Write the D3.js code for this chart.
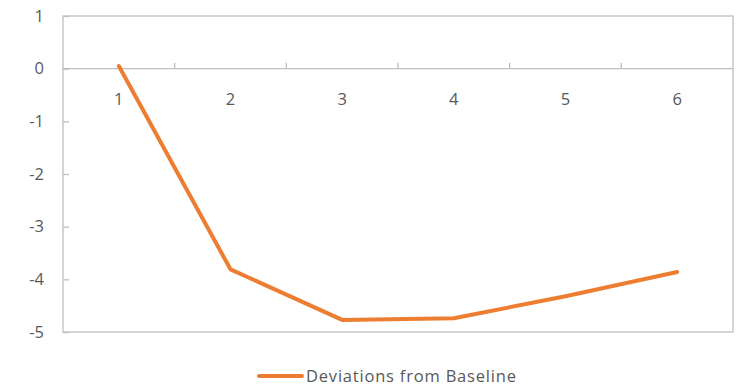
<!DOCTYPE html>
<html><head><meta charset="utf-8">
<script src="https://cdn.jsdelivr.net/npm/d3@7"></script>
<style>body{margin:0;background:#fff}svg{display:block}text{font-family:"Open Sans","Noto Sans",sans-serif;fill:#595959}</style>
</head><body>
<svg id="c" width="738" height="386"></svg>
<script>
const categories = ["1","2","3","4","5","6"];
const values = [0.05, -3.81, -4.77, -4.74, -4.32, -3.86];
const yTicks = [1, 0, -1, -2, -3, -4, -5];
const seriesName = "Deviations from Baseline";

const svg = d3.select("#c");
const L = 63, R = 733, T = 16, B = 332;
const x = d3.scaleBand().domain(categories).range([L, R]);
const y = d3.scaleLinear().domain([-5, 1]).range([B, T]);
const grey = "#BFBFBF";
const fs = "16.5px";

// plot border
svg.append("rect").attr("x", L).attr("y", T).attr("width", R - L).attr("height", B - T)
  .attr("fill", "none").attr("stroke", grey).attr("stroke-width", 1.3);

// y axis
const yAxis = d3.axisRight(y).tickValues(yTicks).tickSize(6).tickFormat("");
const gy = svg.append("g").attr("transform", `translate(${L},0)`).call(yAxis);
gy.select(".domain").remove();
gy.selectAll("line").attr("stroke", grey).attr("stroke-width", 1.3);
svg.selectAll(".ylab").data(yTicks).enter().append("text")
  .attr("x", 44).attr("y", d => y(d)).attr("dy", "0.35em").attr("text-anchor", "end")
  .style("font-size", fs).text(d => d < 0 ? "-" + Math.abs(d) : d);

// x axis at 0
svg.append("line").attr("x1", L).attr("x2", R).attr("y1", y(0)).attr("y2", y(0))
  .attr("stroke", grey).attr("stroke-width", 1.3);
const bounds = categories.slice(1).map(c => x(c));
svg.selectAll(".xt").data(bounds).enter().append("line")
  .attr("x1", d => d).attr("x2", d => d).attr("y1", y(0)).attr("y2", y(0) - 6)
  .attr("stroke", grey).attr("stroke-width", 1.3);
svg.selectAll(".xlab").data(categories).enter().append("text")
  .attr("x", d => x(d) + x.bandwidth() / 2).attr("y", y(0) + 31).attr("dy", "0.35em")
  .attr("text-anchor", "middle").style("font-size", fs).text(d => d);

// line
const line = d3.line().x((d, i) => x(categories[i]) + x.bandwidth() / 2).y(d => y(d));
svg.append("path").datum(values).attr("d", line).attr("fill", "none")
  .attr("stroke", "#ED7D31").attr("stroke-width", 4).attr("stroke-linecap", "round")
  .attr("stroke-linejoin", "round");

// legend
const lg = svg.append("g");
lg.append("line").attr("x1", 259).attr("x2", 302).attr("y1", 376).attr("y2", 376)
  .attr("stroke", "#ED7D31").attr("stroke-width", 4).attr("stroke-linecap", "round");
lg.append("text").attr("x", 306).attr("y", 376).attr("dy", "0.35em")
  .style("font-size", fs).style("letter-spacing", "0.8px").text(seriesName);
</script>
</body></html>
